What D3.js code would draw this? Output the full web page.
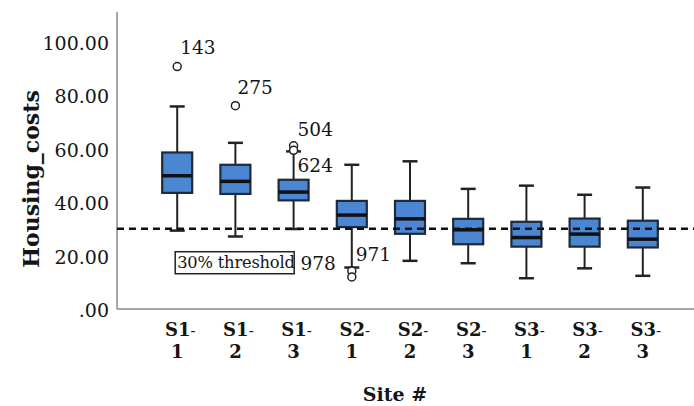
<!DOCTYPE html>
<html>
<head>
<meta charset="utf-8">
<script src="https://cdn.jsdelivr.net/npm/d3@7"></script>
<style>
  body { margin: 0; background: #fff; }
  svg { display: block; }
  text { font-family: "DejaVu Serif", serif; fill: #151515; }
</style>
</head>
<body>
<svg id="chart" width="694" height="406"></svg>
<script>
// Housing costs per site
var sites = ["S1-1", "S1-2", "S1-3", "S2-1", "S2-2", "S2-3", "S3-1", "S3-2", "S3-3"]
  , whiskerLow  = [29.3, 27.1, 29.9, 15.5, 18.0, 17.1, 11.5, 15.2, 12.4]
  , q1          = [43.4, 43.0, 40.6, 30.6, 28.1, 24.2, 23.3, 23.3, 23.0]
  , median      = [49.8, 47.7, 43.7, 35.1, 33.7, 29.6, 26.7, 28.0, 26.1]
  , q3          = [58.5, 53.9, 48.3, 40.4, 40.4, 33.7, 32.6, 33.8, 33.0]
  , whiskerHigh = [75.7, 62.1, 58.9, 53.9, 55.2, 44.9, 46.1, 42.7, 45.4]
  ;

var outlierSite  = ["S1-1", "S1-2", "S1-3", "S1-3", "S2-1", "S2-1"]
  , outlierValue = [90.6, 76.0, 61.0, 59.3, 14.2, 12.0]
  , outlierId    = ["143", "275", "504", "624", "971", "978"]
  ;

var yTicks = [0, 20, 40, 60, 80, 100]
  , threshold = 30
  , thresholdLabel = "30% threshold"
  ;

var svg = d3.select("#chart")
  , plotLeft = 117, plotRight = 694, plotTop = 12, plotBottom = 309
  ;

var x = d3.scalePoint().domain(sites).range([119, 701]).padding(1)
  , y = d3.scaleLinear().domain([0, 111]).range([plotBottom, plotTop])
  , boxW = 30, capW = 15
  ;

var boxes = sites.map(function (s, i) {
  return { site: s, lo: whiskerLow[i], q1: q1[i], med: median[i], q3: q3[i], hi: whiskerHigh[i] };
});
var outliers = outlierSite.map(function (s, i) {
  return { site: s, value: outlierValue[i], id: outlierId[i] };
});

// axes (plain lines, no ticks)
svg.append("line")
    .attr("x1", plotLeft).attr("x2", plotLeft)
    .attr("y1", plotTop).attr("y2", plotBottom)
    .attr("stroke", "#8a8a8a").attr("stroke-width", 1.5);
svg.append("line")
    .attr("x1", plotLeft).attr("x2", plotRight)
    .attr("y1", plotBottom).attr("y2", plotBottom)
    .attr("stroke", "#8a8a8a").attr("stroke-width", 1.5);

svg.append("g")
    .attr("transform", "translate(" + plotLeft + ",0)")
    .call(d3.axisLeft(y).tickValues(yTicks).tickSize(0).tickPadding(8)
      .tickFormat(function (d) { return d === 0 ? ".00" : d.toFixed(2); }))
    .call(function (g) { g.select(".domain").remove(); })
    .selectAll("text")
      .attr("dy", "0.4em")
      .style("font-family", "DejaVu Serif")
      .style("font-size", "19px")
      .style("fill", "#151515");

// x labels in two lines
var xl = svg.append("g").selectAll("text")
    .data(sites)
  .enter().append("text")
    .attr("text-anchor", "middle")
    .style("font-size", "18px")
    .style("font-weight", "bold");
xl.append("tspan")
    .attr("x", function (d) { return x(d) + 3; })
    .attr("y", 336)
    .text(function (d) { return d.split("-")[0]; })
  .append("tspan")
    .style("font-weight", "normal")
    .style("font-size", "15px")
    .text("-");
xl.append("tspan")
    .attr("x", function (d) { return x(d); })
    .attr("y", 358)
    .text(function (d) { return d.split("-")[1]; });

// axis titles
svg.append("text")
    .attr("transform", "translate(39,179) rotate(-90)")
    .attr("text-anchor", "middle")
    .style("font-size", "22px")
    .style("font-weight", "bold")
    .text("Housing_costs");
svg.append("text")
    .attr("x", 395).attr("y", 401)
    .attr("text-anchor", "middle")
    .style("font-size", "19px")
    .style("font-weight", "bold")
    .text("Site #");

// box plots
var bx = svg.append("g").selectAll(".box")
    .data(boxes)
  .enter().append("g")
    .attr("class", "box");

bx.append("line")
    .attr("x1", function (d) { return x(d.site); })
    .attr("x2", function (d) { return x(d.site); })
    .attr("y1", function (d) { return y(d.lo); })
    .attr("y2", function (d) { return y(d.hi); })
    .attr("stroke", "#222").attr("stroke-width", 2);

bx.selectAll(".cap")
    .data(function (d) { return [{ site: d.site, v: d.lo }, { site: d.site, v: d.hi }]; })
  .enter().append("line")
    .attr("class", "cap")
    .attr("x1", function (d) { return x(d.site) - capW / 2; })
    .attr("x2", function (d) { return x(d.site) + capW / 2; })
    .attr("y1", function (d) { return y(d.v); })
    .attr("y2", function (d) { return y(d.v); })
    .attr("stroke", "#222").attr("stroke-width", 2.5);

bx.append("rect")
    .attr("x", function (d) { return x(d.site) - boxW / 2; })
    .attr("y", function (d) { return y(d.q3); })
    .attr("width", boxW)
    .attr("height", function (d) { return y(d.q1) - y(d.q3); })
    .attr("fill", "#4a86d2")
    .attr("stroke", "#1f2a38").attr("stroke-width", 2.2);

bx.append("line")
    .attr("x1", function (d) { return x(d.site) - boxW / 2; })
    .attr("x2", function (d) { return x(d.site) + boxW / 2; })
    .attr("y1", function (d) { return y(d.med); })
    .attr("y2", function (d) { return y(d.med); })
    .attr("stroke", "#111").attr("stroke-width", 3.5);

// outliers
var nudge = { "143": [3, -13, "start"], "275": [2, -12, "start"], "504": [4, -10, "start"],
              "624": [4, 22, "start"], "971": [4, -10, "start"], "978": [-16, -7, "end"] };

svg.append("g").selectAll("circle")
    .data(outliers)
  .enter().append("circle")
    .attr("cx", function (d) { return x(d.site); })
    .attr("cy", function (d) { return y(d.value); })
    .attr("r", 4)
    .attr("fill", "#fff")
    .attr("stroke", "#222").attr("stroke-width", 1.5);

svg.append("g").selectAll("text")
    .data(outliers)
  .enter().append("text")
    .attr("x", function (d) { return x(d.site) + nudge[d.id][0]; })
    .attr("y", function (d) { return y(d.value) + nudge[d.id][1]; })
    .attr("text-anchor", function (d) { return nudge[d.id][2]; })
    .style("font-size", "18.5px")
    .text(function (d) { return d.id; });

// threshold line
svg.append("line")
    .attr("x1", plotLeft).attr("x2", plotRight)
    .attr("y1", y(threshold)).attr("y2", y(threshold))
    .attr("stroke", "#111").attr("stroke-width", 2.5)
    .attr("stroke-dasharray", "7,5");

// threshold label box
var lx = x(sites[0]) - 2, ly = y(threshold) + 23;
svg.append("clipPath").attr("id", "lblclip")
  .append("rect").attr("x", lx).attr("y", ly).attr("width", 119).attr("height", 22);
svg.append("rect")
    .attr("x", lx).attr("y", ly).attr("width", 119).attr("height", 22)
    .attr("fill", "#fff").attr("stroke", "#222").attr("stroke-width", 1.5);
svg.append("text")
    .attr("clip-path", "url(#lblclip)")
    .attr("x", lx + 2).attr("y", ly + 16.5)
    .style("font-size", "16.3px")
    .style("letter-spacing", "-0.2px")
    .text(thresholdLabel);
</script>
</body>
</html>
